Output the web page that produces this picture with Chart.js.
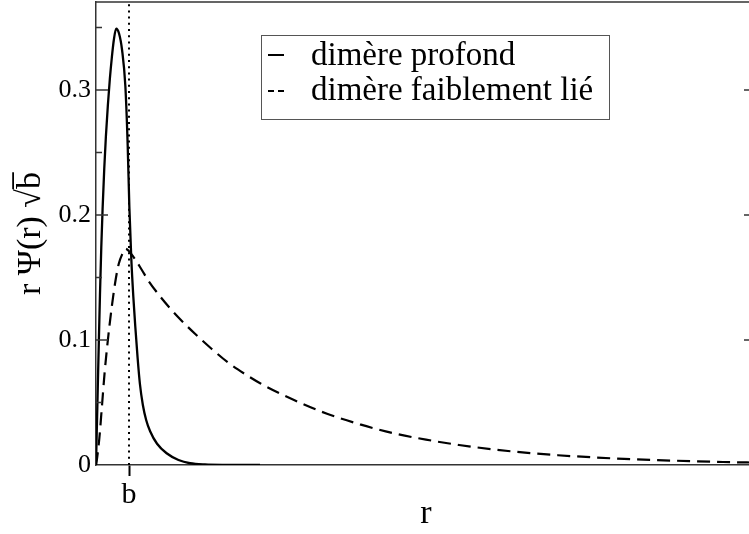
<!DOCTYPE html>
<html><head><meta charset="utf-8">
<script src="https://cdn.jsdelivr.net/npm/chart.js@4/dist/chart.umd.min.js"></script>
<style>
html,body{margin:0;padding:0;background:#fff;overflow:hidden;width:749px;height:534px}
#wrap{width:760px;height:534px}
canvas{display:block}
</style>
</head><body><div id="wrap"><canvas id="c" width="760" height="534"></canvas></div>
<script>
// r in units of b
const rDeep   = [0, 0.04, 0.08, 0.12, 0.16, 0.20, 0.25, 0.30, 0.36, 0.42, 0.48, 0.54, 0.61, 0.70, 0.79, 0.89, 0.96, 1.01, 1.07, 1.13, 1.19, 1.26, 1.33, 1.42, 1.52, 1.64, 1.85, 2.14, 2.5, 2.85, 3.3, 4.0, 4.97];
const psiDeep = [0, 0.046, 0.092, 0.136, 0.174, 0.205, 0.237, 0.263, 0.288, 0.309, 0.326, 0.340, 0.349, 0.345, 0.332, 0.303, 0.256, 0.207, 0.165, 0.135, 0.111, 0.086, 0.065, 0.048, 0.036, 0.027, 0.017, 0.0094, 0.004, 0.0014, 0.0004, 0.0001, 0];
const rWeak   = [0, 0.03, 0.10, 0.18, 0.26, 0.36, 0.48, 0.60, 0.69, 0.80, 0.89, 1.0, 1.2, 1.39, 1.6, 2.0, 2.5, 3.0, 3.5, 4.0, 4.5, 5.0, 6.0, 7.0, 8.0, 9.0, 10.0, 11.0, 12.0, 13.0, 14.0, 15.0, 16.0, 17.0, 18.0, 19.0, 20.0];
const psiWeak = [0, 0.005, 0.021, 0.047, 0.0735, 0.100, 0.127, 0.149, 0.161, 0.169, 0.173, 0.171, 0.164, 0.156, 0.147, 0.133, 0.118, 0.105, 0.093, 0.082, 0.073, 0.065, 0.052, 0.041, 0.0325, 0.0255, 0.0203, 0.0160, 0.0126, 0.0099, 0.0078, 0.0062, 0.0049, 0.0039, 0.0031, 0.0024, 0.0019];
const bPosition = [1];
const xRange = [0, 20];
const yRange = [0, 0.3704];
const xTickValues = [1];
const xTickLabels = ['b'];
const yMajorTicks = [0, 0.1, 0.2, 0.3];
const yMajorLabels = ['0', '0.1', '0.2', '0.3'];
const yMinorTicks = [0.05, 0.15, 0.25, 0.35];
const seriesLabels = ['dimère profond', 'dimère faiblement lié'];
const xTitle = 'r';
const yTitle = 'r Ψ(r) √b̅';

const FONT = '"Liberation Serif", "Times New Roman", serif';
const AXIS = '#333';

const framePlugin = {
  id: 'frame',
  afterDatasetsDraw(chart) {
    const ctx = chart.ctx;
    const {left, right, top, bottom} = chart.chartArea;
    const y = chart.scales.y;
    ctx.save();
    ctx.strokeStyle = AXIS;
    ctx.lineWidth = 1.5;
    ctx.beginPath();
    ctx.moveTo(left, top); ctx.lineTo(right, top);
    ctx.moveTo(right, top); ctx.lineTo(right, bottom);
    yMajorTicks.forEach(v => {
      if (v === 0) return;
      const p = y.getPixelForValue(v);
      ctx.moveTo(left, p); ctx.lineTo(left + 12, p);
      ctx.moveTo(right, p); ctx.lineTo(right - 12, p);
    });
    yMinorTicks.forEach(v => {
      const p = y.getPixelForValue(v);
      ctx.moveTo(left, p); ctx.lineTo(left + 6, p);
      ctx.moveTo(right, p); ctx.lineTo(right - 6, p);
    });
    ctx.stroke();
    ctx.restore();
  },
  afterDraw(chart) {
    const ctx = chart.ctx;
    ctx.save();
    ctx.strokeStyle = '#555';
    ctx.lineWidth = 1;
    ctx.strokeRect(261.5, 35.5, 348, 84);
    ctx.fillStyle = '#000';
    ctx.font = '33px ' + FONT;
    ctx.textBaseline = 'alphabetic';
    ctx.textAlign = 'left';
    ctx.fillText(seriesLabels[0], 311, 65);
    ctx.fillText(seriesLabels[1], 311, 100);
    ctx.strokeStyle = '#000';
    ctx.lineWidth = 2;
    ctx.beginPath(); ctx.moveTo(268, 55); ctx.lineTo(284, 55); ctx.stroke();
    ctx.setLineDash([6, 4]);
    ctx.beginPath(); ctx.moveTo(268, 91); ctx.lineTo(284, 91); ctx.stroke();
    ctx.restore();
  }
};

new Chart(document.getElementById('c'), {
  type: 'scatter',
  data: {
    datasets: [
      {
        label: seriesLabels[0],
        data: rDeep.map((r, i) => ({x: r, y: psiDeep[i]})),
        showLine: true, borderColor: '#000', borderWidth: 2.3,
        pointRadius: 0, cubicInterpolationMode: 'monotone'
      },
      {
        label: seriesLabels[1],
        data: rWeak.map((r, i) => ({x: r, y: psiWeak[i]})),
        showLine: true, borderColor: '#000', borderWidth: 2.2, borderDash: [13, 7],
        pointRadius: 0, cubicInterpolationMode: 'monotone'
      },
      {
        label: 'b',
        data: [{x: bPosition[0], y: yRange[0]}, {x: bPosition[0], y: yRange[1]}],
        showLine: true, borderColor: '#000', borderWidth: 2, borderDash: [2, 4.2],
        pointRadius: 0
      }
    ]
  },
  options: {
    responsive: false, animation: false, devicePixelRatio: 1,
    layout: {padding: {top: 2, right: 4, left: 0, bottom: 0}},
    plugins: {legend: {display: false}, tooltip: {enabled: false}},
    scales: {
      x: {
        type: 'linear', min: xRange[0], max: xRange[1],
        afterBuildTicks: s => { s.ticks = xTickValues.map(v => ({value: v})); },
        afterFit: s => { s.height = 69; s.paddingLeft = 0; s.paddingRight = 0; },
        ticks: {
          callback: v => xTickLabels[xTickValues.indexOf(v)],
          font: {family: FONT, size: 30}, color: '#000', padding: 1, maxRotation: 0
        },
        grid: {display: true, drawOnChartArea: false, drawTicks: true, tickLength: 11, tickColor: '#000', tickWidth: 2},
        border: {color: AXIS, width: 1.5},
        title: {display: true, text: xTitle, font: {family: FONT, size: 34}, color: '#000', padding: {top: 0, bottom: 0}}
      },
      y: {
        type: 'linear', min: yRange[0], max: yRange[1],
        afterBuildTicks: s => { s.ticks = yMajorTicks.map(v => ({value: v})); },
        afterFit: s => { s.width = 96; s.paddingTop = 0; s.paddingBottom = 0; },
        ticks: {
          callback: v => yMajorLabels[yMajorTicks.indexOf(v)],
          font: {family: FONT, size: 26}, color: '#000', padding: 5
        },
        grid: {display: false, drawTicks: false, tickLength: 0},
        border: {color: AXIS, width: 1.5},
        title: {display: true, text: yTitle, font: {family: FONT, size: 34}, color: '#000', padding: {top: 11, bottom: 0}}
      }
    }
  },
  plugins: [framePlugin]
});
</script>
</body></html>
